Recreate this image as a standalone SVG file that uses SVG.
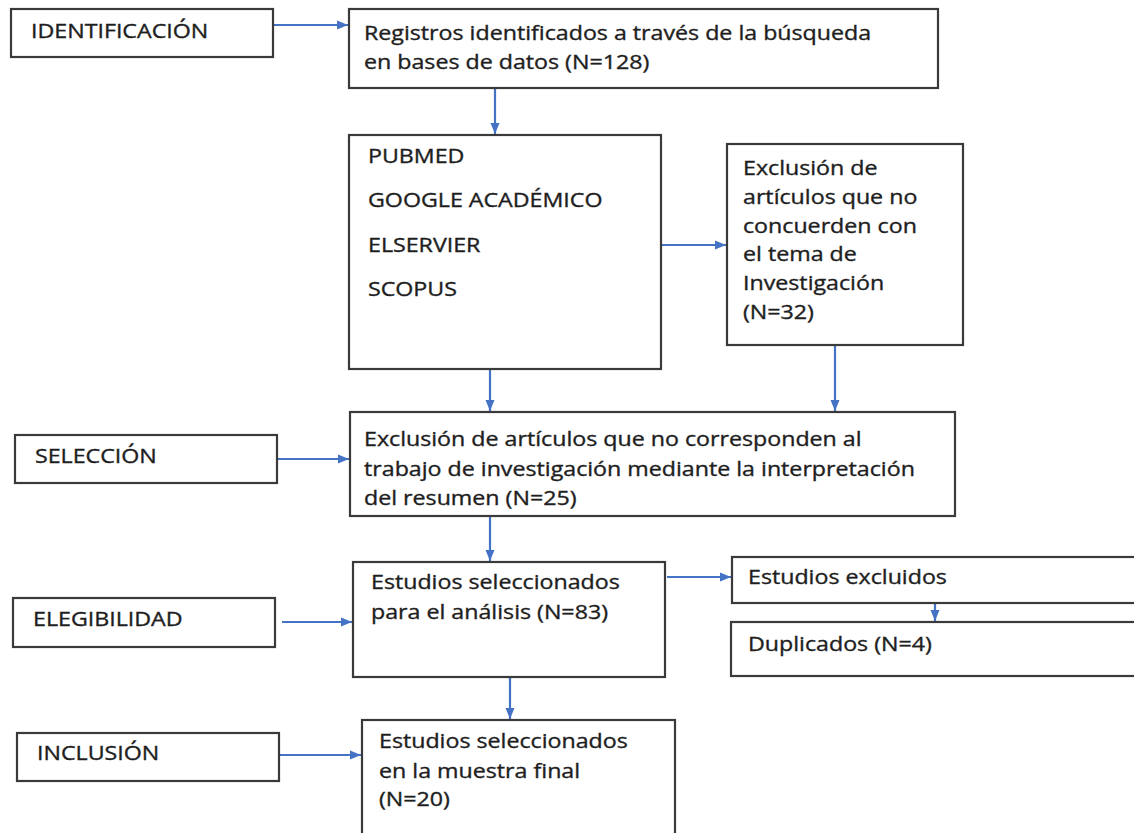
<svg xmlns="http://www.w3.org/2000/svg" width="1134" height="833" viewBox="0 0 1134 833">
<defs>
<marker id="ah" markerUnits="userSpaceOnUse" markerWidth="12" markerHeight="10" refX="11" refY="5" orient="auto">
<path d="M0,0.5 L11,5 L0,9.5 Z" fill="#4472C4"/>
</marker>
<style>
.box{fill:#ffffff;stroke:#3a3a3a;stroke-width:2.2}
.t{font-family:"Open Sans","Liberation Sans",sans-serif;font-size:19.5px;fill:#1e1e1e;stroke:#1e1e1e;stroke-width:0.35}
.c{stroke:#4472C4;stroke-width:2.2;fill:none;marker-end:url(#ah)}
</style>
</defs>
<rect width="1134" height="833" fill="#ffffff"/>
<g id="connectors">
<line class="c" x1="273" y1="25" x2="348" y2="25"/>
<line class="c" x1="495" y1="88" x2="495" y2="134"/>
<line class="c" x1="661" y1="245" x2="726" y2="245"/>
<line class="c" x1="490" y1="369" x2="490" y2="411"/>
<line class="c" x1="835" y1="345" x2="835" y2="411"/>
<line class="c" x1="277" y1="459" x2="349" y2="459"/>
<line class="c" x1="490" y1="516" x2="490" y2="561"/>
<line class="c" x1="282" y1="622" x2="352" y2="622"/>
<line class="c" x1="667" y1="577" x2="731" y2="577"/>
<line class="c" x1="935" y1="603" x2="935" y2="621"/>
<line class="c" x1="510" y1="677" x2="510" y2="719"/>
<line class="c" x1="279" y1="755" x2="361" y2="755"/>
</g>
<g id="identificacion">
<rect class="box" x="11" y="9" width="262" height="48"/>
<g transform="translate(31 0) scale(1.19 1)"><text class="t" x="0" y="38">IDENTIFICACIÓN</text></g>
</g>
<g id="registros">
<rect class="box" x="349" y="9" width="589" height="79"/>
<g transform="translate(364 0) scale(1.19 1)">
<text class="t" x="0" y="40">Registros identificados a través de la búsqueda</text>
<text class="t" x="0" y="69">en bases de datos (N=128)</text>
</g>
</g>
<g id="bases">
<rect class="box" x="349" y="135" width="312" height="234"/>
<g transform="translate(368 0) scale(1.19 1)">
<text class="t" x="0" y="163">PUBMED</text>
<text class="t" x="0" y="207">GOOGLE ACADÉMICO</text>
<text class="t" x="0" y="252">ELSERVIER</text>
<text class="t" x="0" y="296">SCOPUS</text>
</g>
</g>
<g id="exclusion-tema">
<rect class="box" x="727" y="144" width="236" height="201"/>
<g transform="translate(743 0) scale(1.19 1)">
<text class="t" x="0" y="175">Exclusión de</text>
<text class="t" x="0" y="204">artículos que no</text>
<text class="t" x="0" y="233">concuerden con</text>
<text class="t" x="0" y="261">el tema de</text>
<text class="t" x="0" y="290">Investigación</text>
<text class="t" x="0" y="319">(N=32)</text>
</g>
</g>
<g id="seleccion">
<rect class="box" x="15" y="435" width="262" height="48"/>
<g transform="translate(35 0) scale(1.19 1)"><text class="t" x="0" y="463">SELECCIÓN</text></g>
</g>
<g id="exclusion-resumen">
<rect class="box" x="350" y="412" width="605" height="104"/>
<g transform="translate(364 0) scale(1.19 1)">
<text class="t" x="0" y="446">Exclusión de artículos que no corresponden al</text>
<text class="t" x="0" y="476">trabajo de investigación mediante la interpretación</text>
<text class="t" x="0" y="505">del resumen (N=25)</text>
</g>
</g>
<g id="elegibilidad">
<rect class="box" x="13" y="598" width="262" height="49"/>
<g transform="translate(33 0) scale(1.19 1)"><text class="t" x="0" y="626">ELEGIBILIDAD</text></g>
</g>
<g id="estudios-analisis">
<rect class="box" x="353" y="562" width="312" height="115"/>
<g transform="translate(371 0) scale(1.19 1)">
<text class="t" x="0" y="589">Estudios seleccionados</text>
<text class="t" x="0" y="619">para el análisis (N=83)</text>
</g>
</g>
<g id="excluidos">
<rect class="box" x="732" y="557" width="410" height="46"/>
<g transform="translate(748 0) scale(1.19 1)"><text class="t" x="0" y="584">Estudios excluidos</text></g>
</g>
<g id="duplicados">
<rect class="box" x="731" y="622" width="411" height="54"/>
<g transform="translate(748 0) scale(1.19 1)"><text class="t" x="0" y="651">Duplicados (N=4)</text></g>
</g>
<g id="inclusion">
<rect class="box" x="17" y="733" width="262" height="48"/>
<g transform="translate(37 0) scale(1.19 1)"><text class="t" x="0" y="760">INCLUSIÓN</text></g>
</g>
<g id="muestra-final">
<rect class="box" x="362" y="720" width="313" height="125"/>
<g transform="translate(379 0) scale(1.19 1)">
<text class="t" x="0" y="748">Estudios seleccionados</text>
<text class="t" x="0" y="778">en la muestra final</text>
<text class="t" x="0" y="806">(N=20)</text>
</g>
</g>
</svg>
